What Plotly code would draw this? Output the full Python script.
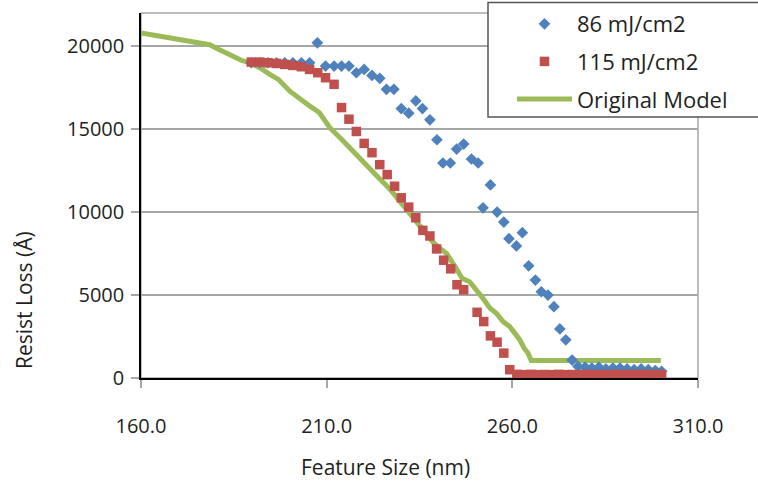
import plotly.graph_objects as go

# ---- data ----
blue_x = [189.7, 192.0, 194.2, 196.5, 198.7, 200.9, 203.2, 205.4, 207.5, 209.7,
          212.0, 214.0, 216.0, 218.0, 220.1, 222.2, 224.3, 226.1, 228.1, 230.1,
          232.1, 234.0, 235.8, 237.8, 239.7, 241.3, 243.3, 245.0, 246.9, 249.0,
          250.8, 252.1, 254.1, 255.9, 257.7, 259.1, 261.1, 262.7, 264.4, 266.2,
          267.8, 269.6, 271.2, 272.8, 274.4, 276.1, 277.7, 279.6, 281.4, 283.3,
          285.2, 287.1, 289.0, 290.9, 292.8, 294.7, 296.6, 298.5, 300.2]
blue_y = [19000, 19000, 19000, 19000, 19000, 19000, 19000, 19000, 20200, 18800,
          18800, 18800, 18800, 18400, 18600, 18240, 18060, 17400, 17400, 16240,
          15960, 16700, 16240, 15560, 14360, 12960, 12960, 13800, 14100, 13200,
          12960, 10260, 11640, 10000, 9400, 8400, 7960, 8760, 6760, 5900,
          5200, 5000, 4300, 2960, 2300, 1080, 700, 650, 600, 650,
          550, 600, 600, 550, 500, 550, 500, 450, 400]

red_x = [189.7, 192.0, 194.2, 196.5, 198.7, 200.9, 203.2, 205.4, 207.6, 209.7,
         212.0, 214.0, 216.0, 218.0, 220.1, 222.2, 224.3, 226.3, 228.3, 230.1,
         232.1, 234.0, 235.9, 237.8, 239.6, 241.5, 243.4, 245.1, 246.9, 250.5,
         252.3, 254.1, 255.9, 257.7, 259.3, 261.2, 263.1, 265.0, 266.8, 268.7,
         270.6, 272.5, 274.3, 276.2, 278.1, 280.0, 281.8, 283.7, 285.6, 287.5,
         289.4, 291.2, 293.1, 295.0, 296.9, 298.7, 300.2]
red_y = [19040, 19040, 19000, 18960, 18900, 18840, 18760, 18600, 18400, 18100,
         17700, 16300, 15600, 14860, 14140, 13580, 12860, 12260, 11560, 10860,
         10300, 9660, 8900, 8560, 7780, 7100, 6580, 5620, 5320, 3960,
         3400, 2540, 2160, 1500, 500, 220, 200, 220, 200, 210,
         200, 220, 200, 210, 200, 220, 200, 210, 200, 220,
         200, 210, 200, 220, 200, 210, 200]

green_x = [160.0, 165.0, 170.0, 175.0, 178.5, 181.0, 183.9, 187.0, 189.3, 192.0,
           194.7, 197.0, 200.0, 202.0, 205.4, 208.0, 210.8, 214.4, 218.9, 221.0,
           223.4, 227.0, 230.6, 234.2, 236.0, 238.6, 240.5, 242.3, 244.9, 246.5,
           248.5, 250.5, 252.1, 254.0, 255.7, 257.5, 259.3, 261.0, 262.0, 263.2,
           264.2, 265.1, 300.0]
green_y = [20800, 20620, 20430, 20250, 20090, 19800, 19450, 19150, 19000, 18700,
           18300, 18000, 17300, 16950, 16400, 16000, 15100, 14300, 13200, 12700,
           12200, 11400, 10400, 9400, 8900, 8200, 7800, 7500, 6600, 6000,
           5800, 5300, 4800, 4200, 3900, 3400, 3100, 2600, 2300, 1800,
           1500, 1050, 1050]

x_ticks = [160, 210, 260, 310]
x_ticktext = ["160.0", "210.0", "260.0", "310.0"]
y_ticks = [0, 5000, 10000, 15000, 20000]
y_ticktext = ["0", "5000", "10000", "15000", "20000"]

FONT = "Open Sans"
TXT = "#231F20"
BLUE = "#4F81BD"
RED = "#C0504D"
GREEN = "#9BBB59"
GRID = "#A6A6A6"

fig = go.Figure()
fig.add_trace(go.Scatter(x=green_x, y=green_y, mode="lines", name="Original Model",
                         line=dict(color=GREEN, width=5), legendrank=3,
                         legendgroup="g3"))
fig.add_trace(go.Scatter(x=blue_x, y=blue_y, mode="markers", name="86 mJ/cm2",
                         marker=dict(symbol="diamond", size=9, color=BLUE),
                         legendrank=1, legendgroup="g1"))
fig.add_trace(go.Scatter(x=red_x, y=red_y, mode="markers", name="115 mJ/cm2",
                         marker=dict(symbol="square", size=9.5, color=RED),
                         legendrank=2, legendgroup="g2"))

L, R, T, B = 141, 60, 13, 107
W, H = 758, 485
pw = W - L - R
ph = H - T - B

def px_x(p):
    return (p - L) / pw

def px_y(p):
    return (H - B - p) / ph

fig.update_layout(
    width=W, height=H,
    margin=dict(l=L, r=R, t=T, b=B, pad=0, autoexpand=False),
    paper_bgcolor="white", plot_bgcolor="white",
    font=dict(family=FONT, size=20, color=TXT),
    showlegend=True,
    legend=dict(x=px_x(512), y=px_y(3), xanchor="left", yanchor="top",
                bgcolor="rgba(0,0,0,0)", borderwidth=0,
                font=dict(family=FONT, size=22, color=TXT),
                itemwidth=55, tracegroupgap=6, traceorder="grouped"),
    xaxis=dict(range=[160, 310], tickvals=x_ticks, ticktext=x_ticktext,
               showgrid=False, zeroline=False, showline=True, linecolor="black",
               linewidth=1.5, ticks="outside", ticklen=8, tickcolor=GRID,
               tickwidth=1.5, ticklabelstandoff=21,
               tickfont=dict(family=FONT, size=20, color=TXT)),
    yaxis=dict(range=[0, 22000], tickvals=y_ticks, ticktext=y_ticktext,
               showgrid=True,
               gridcolor=GRID, gridwidth=1.5, zeroline=False, showline=True,
               linecolor="black", linewidth=1.5, ticks="outside", ticklen=8,
               tickcolor=GRID, tickwidth=1.5, ticklabelstandoff=3,
               tickfont=dict(family=FONT, size=20, color=TXT)),
    shapes=[
        dict(type="rect", xref="paper", yref="paper", x0=0, x1=1, y0=0, y1=1,
             line=dict(color=GRID, width=1.5), layer="below"),
        dict(type="rect", xref="paper", yref="paper", x0=px_x(488), x1=px_x(770),
             y0=px_y(117), y1=px_y(2.5), line=dict(color="#555555", width=1.5),
             fillcolor="white", layer="above"),
    ],
    annotations=[
        dict(text="Resist Loss (Å)", xref="paper", yref="paper",
             x=px_x(24), y=px_y(300), textangle=-90, showarrow=False,
             xanchor="center", yanchor="middle",
             font=dict(family=FONT, size=21, color=TXT)),
        dict(text="Feature Size (nm)", xref="paper", yref="paper",
             x=px_x(385), y=px_y(467), showarrow=False,
             xanchor="center", yanchor="middle",
             font=dict(family=FONT, size=21, color=TXT)),
    ],
)

fig.write_html("out.html")
